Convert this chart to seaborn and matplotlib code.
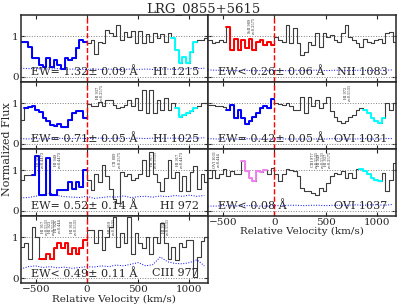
import matplotlib
matplotlib.use("Agg")
import numpy as np
import pandas as pd
import seaborn as sns
from matplotlib import pyplot as plt

# left edges of velocity bins (km/s)
vel = [-648, -612, -576, -540, -504, -468, -432, -396, -360, -324, -288, -252, -216,
       -180, -144, -108, -72, -36, 0, 36, 72, 108, 144, 180, 216, 252, 288, 324,
       360, 396, 432, 468, 504, 540, 576, 612, 648, 684, 720, 756, 792, 828, 864,
       900, 936, 972, 1008, 1044, 1080, 1116, 1152]
vel_end = 1188

hi1215_flux = [0.86, 0.86, 0.74, 0.47, 0.45, 0.30, 0.25, 0.45, 0.25, 0.40, 0.28, 0.20, 0.45,
               0.40, 0.45, 0.70, 0.90, 0.85, 0.82, 0.90, 0.57, 0.86, 0.82, 1.15, 1.07, 1.00,
               1.27, 0.90, 1.10, 0.98, 1.12, 0.82, 1.12, 0.82, 1.05, 0.85, 1.07, 0.95, 1.05,
               0.85, 1.07, 0.95, 0.66, 0.33, 0.49, 0.33, 0.61, 0.86, 0.90, 0.90, 0.95]
hi1025_flux = [0.59, 0.88, 0.90, 0.92, 0.84, 0.78, 0.63, 0.55, 0.47, 0.43, 0.48, 0.41, 0.41,
               0.59, 0.75, 0.80, 0.80, 0.63, 0.97, 0.92, 0.92, 1.02, 0.92, 1.08, 1.08, 0.95,
               0.88, 0.90, 0.95, 1.08, 0.92, 1.12, 0.84, 1.33, 0.75, 1.33, 0.75, 1.08, 0.84,
               1.12, 0.84, 1.00, 0.88, 0.67, 0.72, 0.75, 0.82, 0.88, 0.93, 1.00, 1.00]
hi972_flux = [0.77, 0.89, 0.89, 0.89, 1.35, 0.40, 0.40, 1.30, 0.40, 0.40, 0.52, 0.52, 0.52,
              0.72, 0.55, 0.72, 0.60, 1.00, 0.75, 0.52, 0.90, 0.70, 1.12, 0.85, 0.55, 0.30,
              0.20, 0.95, 0.85, 0.90, 0.75, 0.80, 0.90, 1.25, 0.85, 1.45, 0.90, 0.72, 0.50,
              0.80, 1.25, 0.80, 0.95, 0.50, 0.85, 0.50, 0.95, 1.10, 0.55, 0.90, 0.70]
ciii977_flux = [0.77, 0.85, 0.48, 1.25, 1.00, 0.48, 0.48, 0.60, 0.48, 0.73, 0.85, 0.73, 0.85,
                0.60, 0.73, 0.60, 0.73, 0.93, 1.18, 1.18, 0.85, 1.18, 0.68, 1.00, 1.25, 1.50,
                0.77, 1.10, 0.85, 1.50, 0.60, 1.10, 0.85, 0.73, 1.00, 0.60, 1.00, 0.85, 1.35,
                0.85, 0.48, 0.77, 0.44, 0.85, 0.77, 0.93, 0.93, 0.02, 0.52, 0.90, 1.00]
nii1083_flux = [0.90, 0.82, 0.85, 0.90, 0.86, 1.23, 0.66, 0.94, 0.66, 0.90, 0.70, 0.94, 0.66,
                0.85, 0.90, 0.78, 0.86, 0.78, 0.98, 0.90, 0.86, 1.27, 0.82, 1.19, 0.82, 0.53,
                0.61, 0.86, 0.78, 1.07, 0.74, 1.07, 0.98, 1.02, 0.90, 0.86, 1.07, 1.27, 0.98,
                0.90, 0.82, 0.74, 0.94, 0.86, 0.82, 0.90, 0.94, 0.82, 1.07, 1.11, 0.86]
ovi1031_flux = [0.96, 0.96, 0.93, 0.93, 0.90, 0.84, 0.96, 0.63, 0.84, 0.63, 0.50, 0.55, 0.67,
                0.75, 0.88, 0.92, 0.88, 1.10, 1.00, 0.98, 0.96, 1.00, 0.92, 0.84, 0.84, 1.16,
                0.75, 1.16, 0.92, 1.08, 0.88, 1.00, 1.16, 0.80, 0.67, 0.55, 0.51, 0.55, 0.67,
                0.71, 0.84, 0.88, 0.84, 0.75, 0.63, 0.55, 0.51, 0.63, 1.00, 0.84, 1.00]
ovi1037_flux = [0.80, 1.00, 0.80, 0.90, 1.02, 0.85, 0.98, 0.90, 0.90, 1.22, 0.98, 0.80, 0.73,
                0.98, 0.96, 1.00, 0.90, 1.05, 0.90, 0.73, 0.90, 1.02, 1.00, 0.98, 0.85, 0.56,
                0.48, 0.48, 0.44, 0.40, 0.56, 0.48, 0.69, 0.85, 0.94, 0.90, 0.98, 0.80, 0.94,
                0.80, 1.02, 1.02, 0.98, 0.90, 0.80, 0.77, 0.73, 0.94, 0.48, 0.77, 1.18]

# error spectra, sampled every other bin
hi1215_err = [0.21, 0.20, 0.20, 0.19, 0.19, 0.20, 0.18, 0.19, 0.18, 0.18, 0.19, 0.18, 0.19,
              0.18, 0.18, 0.19, 0.18, 0.19, 0.18, 0.19, 0.19, 0.18, 0.19, 0.20, 0.20, 0.21]
hi1025_err = [0.13, 0.12, 0.13, 0.12, 0.13, 0.14, 0.13, 0.13, 0.14, 0.13, 0.14, 0.14, 0.13,
              0.14, 0.13, 0.14, 0.14, 0.13, 0.14, 0.13, 0.14, 0.14, 0.13, 0.14, 0.14, 0.15]
hi972_err = [0.32, 0.33, 0.36, 0.40, 0.44, 0.38, 0.35, 0.34, 0.33, 0.36, 0.31, 0.33, 0.35,
             0.34, 0.37, 0.33, 0.35, 0.36, 0.34, 0.37, 0.35, 0.38, 0.36, 0.39, 0.36, 0.38]
ciii977_err = [0.22, 0.28, 0.30, 0.26, 0.28, 0.25, 0.27, 0.24, 0.26, 0.28, 0.27, 0.30, 0.28,
               0.32, 0.30, 0.34, 0.38, 0.30, 0.33, 0.52, 0.40, 0.36, 0.35, 0.38, 0.45, 0.30]
nii1083_err = [0.17, 0.16, 0.16, 0.15, 0.15, 0.16, 0.15, 0.15, 0.15, 0.16, 0.15, 0.15, 0.16,
               0.15, 0.16, 0.16, 0.15, 0.16, 0.16, 0.15, 0.16, 0.16, 0.15, 0.16, 0.16, 0.17]
ovi1031_err = [0.13, 0.12, 0.12, 0.12, 0.12, 0.13, 0.12, 0.12, 0.12, 0.12, 0.12, 0.12, 0.12,
               0.12, 0.12, 0.12, 0.12, 0.13, 0.12, 0.12, 0.12, 0.13, 0.12, 0.12, 0.13, 0.13]
ovi1037_err = [0.12, 0.12, 0.13, 0.13, 0.12, 0.13, 0.13, 0.12, 0.12, 0.13, 0.13, 0.14, 0.14,
               0.13, 0.14, 0.14, 0.13, 0.14, 0.14, 0.14, 0.15, 0.14, 0.15, 0.15, 0.14, 0.16]

# equivalent width text per line
labels = {
    "HI 1215": "EW= 1.32\u00b1 0.09 \u00c5",
    "HI 1025": "EW= 0.71\u00b1 0.05 \u00c5",
    "HI 972": "EW= 0.52\u00b1 0.14 \u00c5",
    "CIII 977": "EW< 0.49\u00b1 0.11 \u00c5",
    "NII 1083": "EW< 0.26\u00b1 0.06 \u00c5",
    "OVI 1031": "EW= 0.42\u00b1 0.05 \u00c5",
    "OVI 1037": "EW< 0.08 \u00c5",
}

# small line-identification notes (velocity, text)
notes = {
    "HI 1215": [],
    "HI 1025": [(130, "HI 937\nz=0.2575")],
    "HI 972": [(-450, "HI 950\nz=0.4473"), (-280, "HI 949\nz=0.4473"),
               (300, "CII 889\nz=0.2575"), (660, "HI 917\nz=0.5531"),
               (910, "HI 917\nz=0.4473")],
    "CIII 977": [(-410, "HI 917\nz=0.5531"), (-345, "HI 923\nz=0.5531"),
                 (-280, "HI 926\nz=0.444"), (-130, "HI 918\nz=0.5531"),
                 (245, "HI 919\nz=0.5531"), (775, "HI 930\nz=0.5531")],
    "NII 1083": [(-217, "SiII 989\nz=0.2575")],
    "OVI 1031": [(718, "HI 972\nz=0.5531")],
    "OVI 1037": [(-560, "OVI 1031\nz=0.444"), (390, "CIII 977\nz=0.5531"),
                 (455, "HI 949\nz=0.5531"), (520, "HI 937\nz=0.2575")],
}

sns.set_style("ticks")
plt.rcParams["font.family"] = ["DejaVu Serif"]
plt.rcParams["mathtext.fontset"] = "dejavuserif"

fig = plt.figure(figsize=(4.07, 3.05), dpi=100)


def draw_panel(ax, name, flux, err, segs, left, bottom):
    x = vel + [vel_end]
    y = flux + [flux[-1]]
    ax.axhline(1, color="gray", ls=":", lw=0.7)
    ax.axhline(0, color="gray", ls=":", lw=0.7)
    sns.lineplot(x=x, y=y, ax=ax, drawstyle="steps-post", color="#3c3c3c", lw=0.8)
    for a, b, c in segs:
        sns.lineplot(x=x[a:b + 2], y=flux[a:b + 1] + [flux[b]], ax=ax,
                     drawstyle="steps-post", color=c, lw=1.4)
    sns.lineplot(x=vel[::2], y=err, ax=ax, color="blue", lw=0.7, linestyle=":")
    ax.axvline(0, color="red", ls="--", lw=1.0)
    for v, t in notes[name]:
        ax.text(v, 1.47, t, rotation=90, fontsize=2.5, va="top", ha="center",
                linespacing=1.0)
    ax.text(-550, 0.12, labels[name], fontsize=8, va="center", ha="left")
    ax.text(1100, 0.12, name, fontsize=8, va="center", ha="right")
    ax.set_xlim(-648, 1188)
    ax.set_ylim(-0.13, 1.52)
    ax.set_yticks([0, 1])
    ax.set_xticks([-500, 0, 500, 1000])
    ax.tick_params(direction="in", top=True, right=True, length=3, labelsize=7.5, pad=1.5)
    ax.set_xlabel("")
    ax.set_ylabel("")
    if not left:
        ax.set_yticklabels([])
    if not bottom:
        ax.set_xticklabels([])
    else:
        ax.set_xlabel("Relative Velocity (km/s)", fontsize=7.5, labelpad=0)
    for s in ax.spines.values():
        s.set_linewidth(1.1)


bottoms = [0.731, 0.511, 0.291, 0.071]
h = 0.22
left_panels = [("HI 1215", hi1215_flux, hi1215_err, [(0, 17, "blue"), (41, 47, "cyan")]),
               ("HI 1025", hi1025_flux, hi1025_err, [(1, 17, "blue"), (42, 47, "cyan")]),
               ("HI 972", hi972_flux, hi972_err, [(3, 17, "blue")]),
               ("CIII 977", ciii977_flux, ciii977_err, [(5, 17, "red")])]
right_panels = [("NII 1083", nii1083_flux, nii1083_err, [(5, 17, "red")]),
                ("OVI 1031", ovi1031_flux, ovi1031_err, [(5, 17, "blue"), (42, 47, "cyan")]),
                ("OVI 1037", ovi1037_flux, ovi1037_err, [(9, 15, "violet"), (41, 46, "cyan")])]

for i, (name, flux, err, segs) in enumerate(left_panels):
    ax = fig.add_axes([0.051, bottoms[i], 0.46, h])
    draw_panel(ax, name, flux, err, segs, True, i == 3)
for i, (name, flux, err, segs) in enumerate(right_panels):
    ax = fig.add_axes([0.511, bottoms[i], 0.463, h])
    draw_panel(ax, name, flux, err, segs, False, i == 2)

fig.text(0.5, 0.972, "LRG_0855+5615", ha="center", va="center", fontsize=9.5)
fig.text(0.016, 0.51, "Normalized Flux", rotation=90, ha="center", va="center", fontsize=8)

fig.savefig("out.png", dpi=100)
